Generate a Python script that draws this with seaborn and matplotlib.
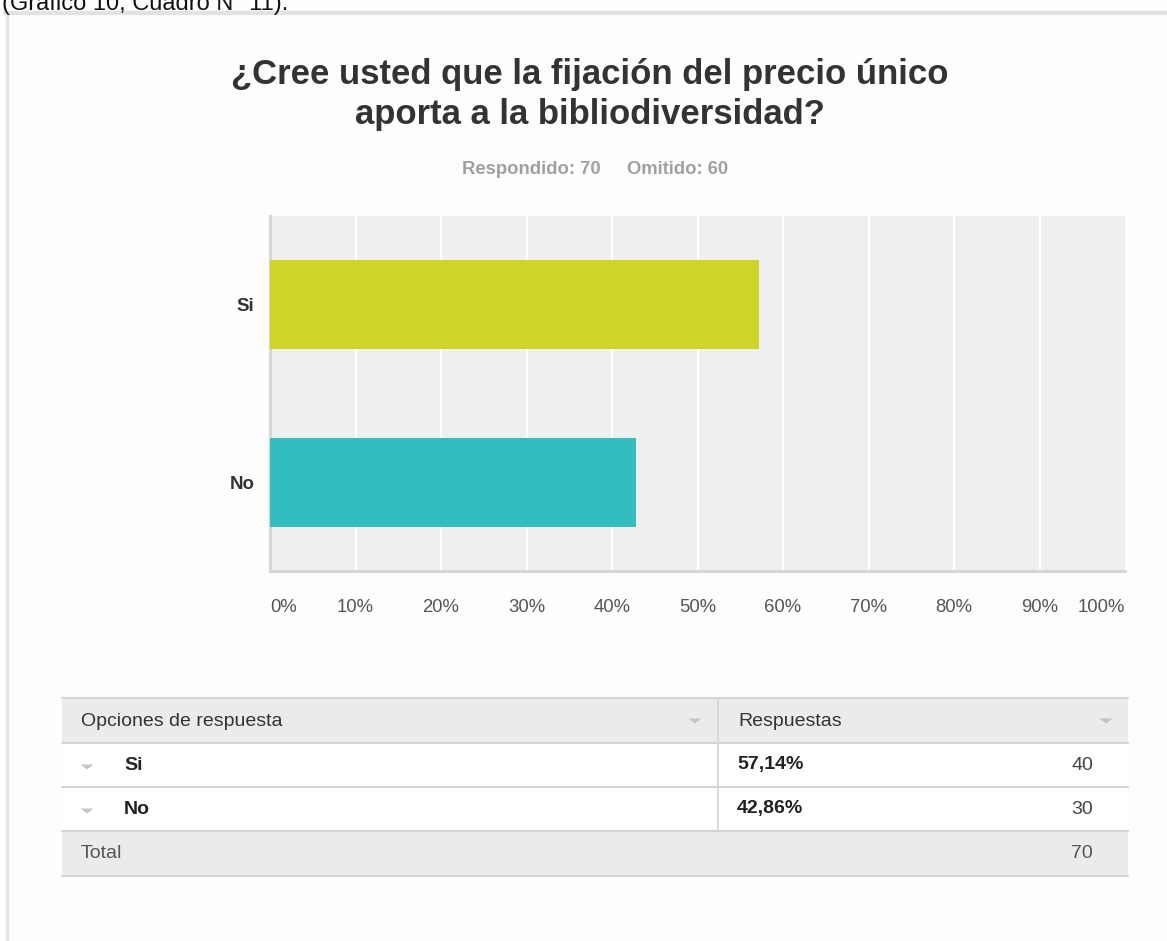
import matplotlib
matplotlib.use("Agg")
import matplotlib.pyplot as plt
from matplotlib import font_manager
from matplotlib.patches import Rectangle, Polygon
from matplotlib.lines import Line2D
import seaborn as sns
import pandas as pd

# ---- data ----
categorias = ["Si", "No"]
porcentajes = [57.14, 42.86]
conteos = [40, 30]
pct_labels = ["57,14%", "42,86%"]
total = 70
respondido = 70
omitido = 60
xticks = [0, 10, 20, 30, 40, 50, 60, 70, 80, 90, 100]
xtick_labels = [f"{t}%" for t in xticks]
colores = ["#cfd427", "#32bdbf"]

titulo_l1 = "¿Cree usted que la fijación del precio único"
titulo_l2 = "aporta a la bibliodiversidad?"
encabezado_top = "(Gráfico 10, Cuadro N° 11)."

sns.set_theme(style="white")
names = {f.name for f in font_manager.fontManager.ttflist}
base = "Liberation Sans" if "Liberation Sans" in names else "DejaVu Sans"
plt.rcParams["font.family"] = [base, "DejaVu Sans"]

W, H = 1167, 941
fig = plt.figure(figsize=(W / 100, H / 100), dpi=100)
fig.patch.set_facecolor("#fdfdfd")

def fx(x):
    return x / W

def fy(y):
    return 1 - y / H

# page decorations
fig.text(fx(2), fy(10), encabezado_top, fontsize=17, color="#111111",
         ha="left", va="baseline")
fig.add_artist(Line2D([fx(5), fx(1167)], [fy(13), fy(13)], color="#e2e2e2", lw=3))
fig.add_artist(Line2D([fx(7), fx(7)], [fy(13), fy(941)], color="#e2e2e2", lw=2))

# title and subtitle
fig.text(fx(590), fy(84), titulo_l1, ha="center", va="baseline", fontsize=25,
         fontweight="bold", color="#333333")
fig.text(fx(590), fy(124), titulo_l2, ha="center", va="baseline", fontsize=25,
         fontweight="bold", color="#333333")
fig.text(fx(601), fy(174), f"Respondido: {respondido}", ha="right", va="baseline",
         fontsize=13.3, fontweight="bold", color="#a0a0a0")
fig.text(fx(627), fy(174), f"Omitido: {omitido}", ha="left", va="baseline",
         fontsize=13.3, fontweight="bold", color="#a0a0a0")

# ---- chart ----
ax = fig.add_axes([fx(270), fy(571), (1125 - 270) / W, (571 - 216) / H])
df = pd.DataFrame({"opcion": categorias, "pct": porcentajes})
sns.barplot(data=df, x="pct", y="opcion", hue="opcion", palette=colores,
            orient="h", width=0.5, ax=ax, legend=False, saturation=1,
            edgecolor="none", zorder=3)
ax.set_facecolor("#efefef")
ax.set_xlim(0, 100)
ax.set_ylim(1.5, -0.5)
ax.set_xlabel("")
ax.set_ylabel("")
for x in xticks[1:-1]:
    ax.axvline(x, color="white", lw=1.6, zorder=1)
for s in ["top", "right"]:
    ax.spines[s].set_visible(False)
for s in ["left", "bottom"]:
    ax.spines[s].set_color("#d6d6d6")
    ax.spines[s].set_linewidth(2.2)
ax.set_xticks(xticks)
ax.set_xticklabels(xtick_labels)
ax.tick_params(axis="x", length=0, pad=20, labelsize=13.3, labelcolor="#555555")
ax.tick_params(axis="y", length=0, pad=11, labelsize=13.5, labelcolor="#333333")
for lab in ax.get_yticklabels():
    lab.set_fontweight("bold")
xl = ax.get_xticklabels()
xl[0].set_ha("left")
xl[-1].set_ha("right")

# ---- table ----
tl, tr, tdiv = 62, 1128, 718
rows_y = [698, 743, 787, 831, 876]

def rect(x0, y0, x1, y1, color):
    fig.add_artist(Rectangle((fx(x0), fy(y1)), fx(x1) - fx(x0), fy(y0) - fy(y1),
                             transform=fig.transFigure, facecolor=color,
                             edgecolor="none"))

def hline(y, color="#d4d4d4", lw=1.5):
    fig.add_artist(Line2D([fx(tl), fx(tr)], [fy(y), fy(y)], color=color, lw=lw))

def tri(xc, yc, color="#c4c4c4", w=6.5, h=5):
    fig.add_artist(Polygon([(fx(xc - w), fy(yc - h / 2)), (fx(xc + w), fy(yc - h / 2)),
                            (fx(xc), fy(yc + h / 2))], closed=True,
                           transform=fig.transFigure, facecolor=color,
                           edgecolor="none"))

rect(tl, rows_y[0], tr, rows_y[1], "#ebebeb")
rect(tl, rows_y[3], tr, rows_y[4], "#ebebeb")
rect(tl, rows_y[1], tr, rows_y[3], "#ffffff")
for y in rows_y:
    hline(y)
fig.add_artist(Line2D([fx(tdiv), fx(tdiv)], [fy(rows_y[0]), fy(rows_y[3])],
                      color="#d4d4d4", lw=1.2))

tfs = 14
fig.text(fx(81), fy(721), "Opciones de respuesta", fontsize=tfs, color="#333333",
         va="center", ha="left")
fig.text(fx(738), fy(721), "Respuestas", fontsize=tfs, color="#333333",
         va="center", ha="left")
tri(695, 721)
tri(1106, 721)
for i, (cat, pl, c) in enumerate(zip(categorias, pct_labels, conteos)):
    yc = (rows_y[i + 1] + rows_y[i + 2]) / 2
    tri(87, yc + 2)
    fig.text(fx(124), fy(yc), cat, fontsize=tfs, fontweight="bold", color="#222222",
             va="center", ha="left")
    fig.text(fx(737), fy(yc), pl, fontsize=tfs, fontweight="bold", color="#222222",
             va="center", ha="left")
    fig.text(fx(1093), fy(yc), str(c), fontsize=tfs, color="#444444",
             va="center", ha="right")
yt = (rows_y[3] + rows_y[4]) / 2
fig.text(fx(81), fy(yt), "Total", fontsize=tfs, color="#555555",
         va="center", ha="left")
fig.text(fx(1093), fy(yt), str(total), fontsize=tfs, color="#555555",
         va="center", ha="right")

fig.savefig("out.png", dpi=100, facecolor=fig.get_facecolor())
